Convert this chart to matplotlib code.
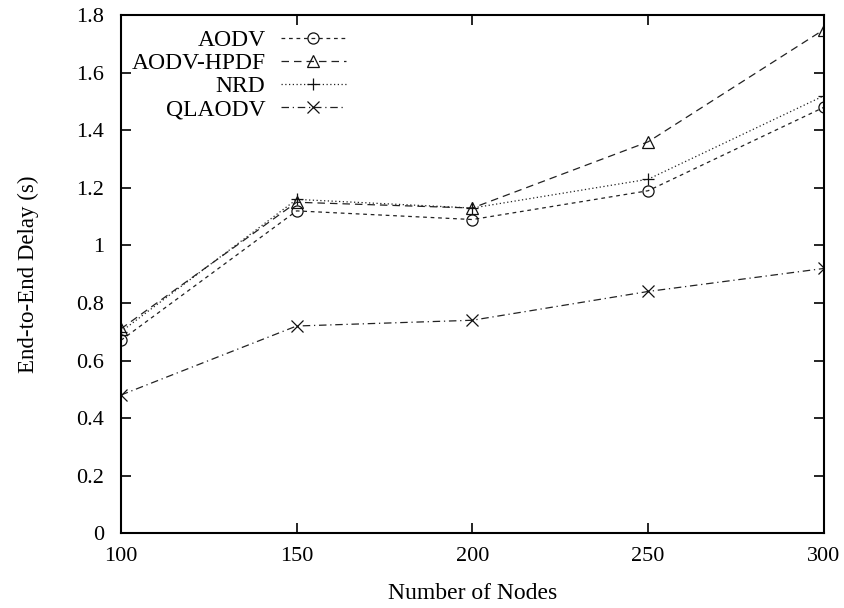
import matplotlib
matplotlib.use("Agg")
import matplotlib.pyplot as plt

nodes = [100, 150, 200, 250, 300]
aodv = [0.67, 1.12, 1.09, 1.19, 1.48]
aodv_hpdf = [0.71, 1.15, 1.13, 1.36, 1.75]
nrd = [0.70, 1.16, 1.13, 1.23, 1.52]
qlaodv = [0.48, 0.72, 0.74, 0.84, 0.92]

x_ticks = [100, 150, 200, 250, 300]
y_ticks = [0, 0.2, 0.4, 0.6, 0.8, 1.0, 1.2, 1.4, 1.6, 1.8]
y_tick_labels = ["0", "0.2", "0.4", "0.6", "0.8", "1", "1.2", "1.4", "1.6", "1.8"]

plt.rcParams["font.family"] = ["Liberation Serif", "DejaVu Serif"]
plt.rcParams["font.size"] = 16

fig = plt.figure(figsize=(8.45, 6.08), dpi=100)
ax = fig.add_axes([0.143, 0.123, 0.832, 0.852])

line_kw = dict(color="#222222", lw=0.9, markersize=8, markerfacecolor="none",
               markeredgecolor="#111111", markeredgewidth=0.9)

ax.plot(nodes, aodv, label="AODV", marker="o", dashes=(3, 3), **line_kw)
ax.plot(nodes, aodv_hpdf, label="AODV-HPDF", marker="^", dashes=(6, 4), **line_kw)
ax.plot(nodes, nrd, label="NRD", marker="+", dashes=(1, 2), **line_kw)
ax.plot(nodes, qlaodv, label="QLAODV", marker="x", dashes=(6, 3, 1, 3), **line_kw)

ax.set_xlim(100, 300)
ax.set_ylim(0, 1.8)
ax.set_xticks(x_ticks)
ax.set_yticks(y_ticks)
ax.set_yticklabels(y_tick_labels)

ax.tick_params(direction="in", length=7, width=1.2, top=True, right=True,
               labelsize=16)
ax.tick_params(axis="x", pad=10)
ax.tick_params(axis="y", pad=12)
for sp in ax.spines.values():
    sp.set_linewidth(1.5)

ax.set_xlabel("Number of Nodes", fontsize=17, labelpad=12)
ax.set_ylabel("End-to-End Delay (s)", fontsize=16.5, labelpad=27)

leg = ax.legend(loc="upper right", bbox_to_anchor=(0.32, 0.972), frameon=False,
                markerfirst=False, borderaxespad=0, borderpad=0,
                labelspacing=0.06, handlelength=2.75, handletextpad=0.65,
                fontsize=17)

fig.savefig("out.png", dpi=100)
